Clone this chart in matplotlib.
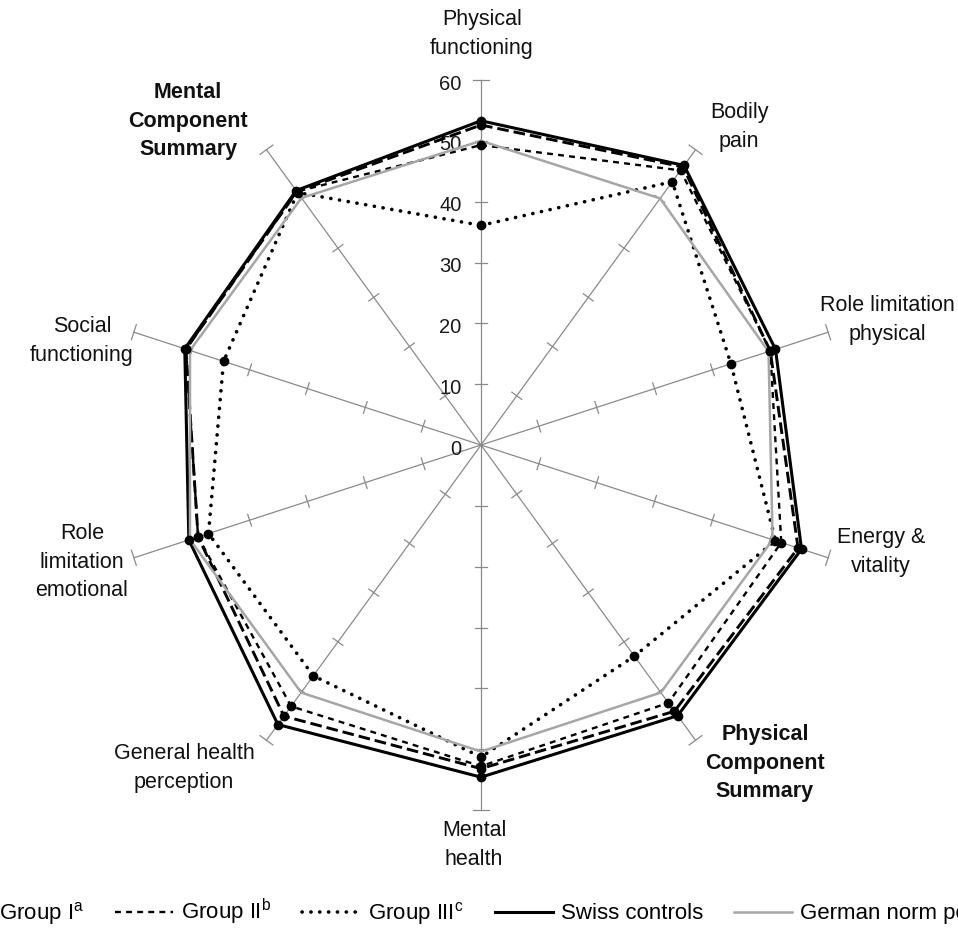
import numpy as np
import matplotlib
matplotlib.use('Agg')
import matplotlib.pyplot as plt

plt.rcParams['font.family'] = ['Liberation Sans', 'DejaVu Sans']
plt.rcParams['mathtext.default'] = 'regular'

# SF-36 domains, clockwise from the top
domains = ['Physical\nfunctioning', 'Bodily\npain', 'Role limitation\nphysical',
           'Energy &\nvitality', 'Physical\nComponent\nSummary', 'Mental\nhealth',
           'General health\nperception', 'Role\nlimitation\nemotional',
           'Social\nfunctioning', 'Mental\nComponent\nSummary']
bold_domains = [4, 9]

group_1 = [52.6, 56.5, 50.0, 54.8, 54.1, 53.2, 55.1, 48.9, 51.0, 51.5]
group_2 = [49.3, 55.8, 50.0, 51.9, 52.4, 52.8, 53.1, 48.9, 51.0, 51.5]
group_3 = [36.1, 53.5, 43.2, 50.9, 42.9, 51.3, 46.9, 47.1, 44.5, 51.3]
swiss = [53.3, 56.8, 50.9, 55.4, 55.0, 54.6, 56.8, 50.5, 51.2, 51.7]
german = [50.0, 50.1, 49.7, 50.4, 50.3, 50.4, 50.3, 50.3, 50.3, 50.2]

ticks = [0, 10, 20, 30, 40, 50, 60]

# label centres in pixels (x, y from top)
label_pos = [(482, 34), (739, 127), (887, 320), (881, 552), (765, 763),
             (474, 845), (184, 768), (82, 562), (82, 341), (188, 121)]

W, H = 958, 934
fig = plt.figure(figsize=(W / 100, H / 100), dpi=100)
cx, cy, R = 481, 445, 365
ax = fig.add_axes([(cx - R) / W, (H - cy - R) / H, 2 * R / W, 2 * R / H],
                  projection='polar')
ax.set_theta_zero_location('N')
ax.set_theta_direction(-1)
ax.set_ylim(0, 60)
ax.axis('off')

n = len(domains)
theta = np.arange(n) * 2 * np.pi / n
grey = '#8a8a8a'

# spokes with small perpendicular ticks
for t in theta:
    ax.plot([t, t], [0, 60], color=grey, lw=0.9, clip_on=False, zorder=1)
    for r in ticks[1:]:
        h = 1.3 if r == 60 else 1.0
        dt = np.arctan(h / r)
        ax.plot([t - dt, t + dt], [np.hypot(r, h)] * 2, color=grey, lw=0.9,
                clip_on=False, zorder=1)

for r in ticks:
    ax.annotate(str(r), (0, r), xytext=(-14, -3), textcoords='offset points',
                ha='right', va='center', fontsize=14.5, color='#1a1a1a')

tc = np.append(theta, theta[0])


def closed(v):
    return np.append(v, v[0])


series = [
    ('Group I$^a$', group_1, dict(color='black', lw=2.1, dashes=(4.0, 1.7)), True),
    ('Group II$^b$', group_2, dict(color='black', lw=1.7, dashes=(2.5, 2.2)), True),
    ('Group III$^c$', group_3, dict(color='black', lw=2.6, linestyle=(0, (0.05, 2.4)),
                                    dash_capstyle='round'), True),
    ('Swiss controls', swiss, dict(color='black', lw=2.2), True),
    ('German norm population', german, dict(color='#a6a6a6', lw=1.8), False),
]

handles = []
for name, vals, style, dots in series:
    ln, = ax.plot(tc, closed(vals), label=name, clip_on=False, zorder=3, **style)
    handles.append(ln)
    if dots:
        ax.plot(theta, vals, linestyle='none', marker='o', ms=6, color='black',
                clip_on=False, zorder=4)

for i, (lab, (px, py)) in enumerate(zip(domains, label_pos)):
    fig.text(px / W, 1 - py / H, lab, ha='center', va='center', fontsize=15.5,
             fontweight='bold' if i in bold_domains else 'normal',
             linespacing=1.45, color='#111111')

fig.legend(handles=handles, loc='center', bbox_to_anchor=(0.511, 1 - 912 / H),
           ncol=5, frameon=False, fontsize=16, handlelength=2.6,
           handletextpad=0.36, columnspacing=1.4)

fig.savefig('out.png', dpi=100)
